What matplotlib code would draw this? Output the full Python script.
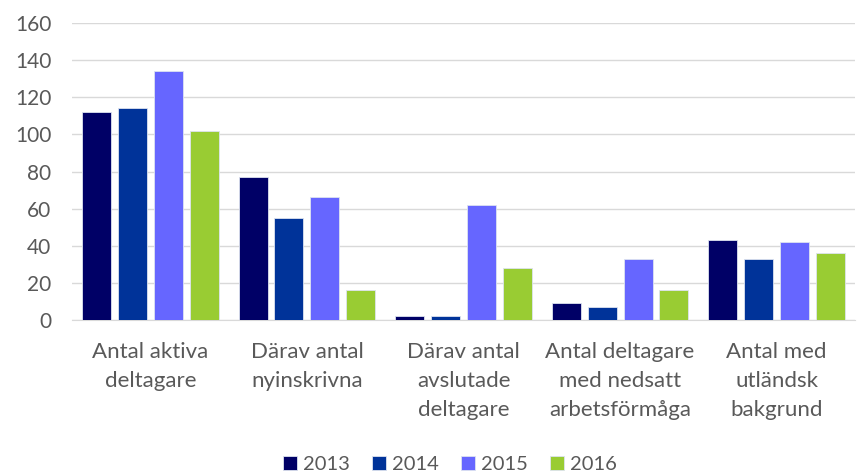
import matplotlib.pyplot as plt
import numpy as np

categories = ["Antal aktiva\ndeltagare", "Därav antal\nnyinskrivna", "Därav antal\navslutade\ndeltagare",
              "Antal deltagare\nmed nedsatt\narbetsförmåga", "Antal med\nutländsk\nbakgrund"]
years = ["2013", "2014", "2015", "2016"]
v2013 = [112, 77, 2, 9, 43]
v2014 = [114, 55, 2, 7, 33]
v2015 = [134, 66, 62, 33, 42]
v2016 = [102, 16, 28, 16, 36]
colors = ["#000066", "#003399", "#6666FF", "#99CC33"]

plt.rcParams['font.family'] = ['Lato', 'DejaVu Sans']
txt = "#595959"

fig = plt.figure(figsize=(8.57, 4.73), dpi=100)
ax = fig.add_axes([72/857, 1-320/473, 783/857, 297/473])

x = np.arange(len(categories))
step = 36/157
width = 29/157
for i, (vals, c, y) in enumerate(zip([v2013, v2014, v2015, v2016], colors, years)):
    ax.bar(x + (i - 1.5)*step, vals, width, color=c, label=y,
           edgecolor="#dde3f0", linewidth=0.6, zorder=3)

ax.set_xlim(-0.5, len(categories) - 0.5)
ax.set_ylim(0, 160)
ax.set_yticks(range(0, 161, 20))
ax.grid(axis='y', color="#d9d9d9", linewidth=1, zorder=0)
for s in ['top', 'right', 'left']:
    ax.spines[s].set_visible(False)
ax.spines['bottom'].set_color("#d9d9d9")
ax.tick_params(axis='both', length=0, colors=txt)
ax.tick_params(axis='y', pad=15, labelsize=15)
ax.set_xticks(x)
ax.set_xticklabels(categories, color=txt, fontsize=16, linespacing=1.55)
ax.tick_params(axis='x', pad=16)

fig.legend(loc='lower center', ncol=4, frameon=False, fontsize=14.5,
           bbox_to_anchor=(0.525, -0.038), handlelength=0.7, handleheight=0.7,
           handletextpad=0.3, columnspacing=1.1, labelcolor=txt)

fig.savefig("out.png", dpi=100)
